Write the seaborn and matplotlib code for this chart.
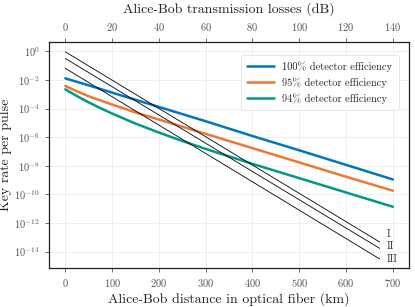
import numpy as np
import pandas as pd
import matplotlib
matplotlib.use("Agg")
import matplotlib.pyplot as plt
import seaborn as sns

# --- Daten ---
km_blue = [0, 50, 100, 200, 300, 400, 500, 600, 700]
rate_blue = [1.3e-2, 4.2e-3, 1.3e-3, 1.3e-4, 1.3e-5, 1.2e-6, 1.2e-7, 1.15e-8, 1.1e-9]

km_orange = [0, 25, 50, 100, 150, 200, 250, 300, 400, 500, 600, 700]
rate_orange = [3.8e-3, 1.6e-3, 7.2e-4, 1.9e-4, 5.4e-5, 1.7e-5, 5.4e-6, 1.7e-6, 1.7e-7, 1.7e-8, 1.7e-9, 1.8e-10]

km_green = [0, 25, 50, 75, 100, 150, 200, 250, 300, 350, 400, 500, 600, 700]
rate_green = [2.2e-3, 7.4e-4, 2.7e-4, 1.07e-4, 4.5e-5, 8.9e-6, 2.1e-6, 5.4e-7, 1.5e-7,
              4.5e-8, 1.35e-8, 1.35e-9, 1.35e-10, 1.35e-11]

km_bounds = [0, 672]
rate_I = [0.93, 4.6e-14]
rate_II = [0.32, 1.66e-14]
rate_III = [6.5e-2, 3.0e-15]
bound_labels = ["I", "II", "III"]
bound_label_y = [1.7e-13, 2.2e-14, 3.0e-15]

curve_labels = ["100% detector efficiency", "95% detector efficiency", "94% detector efficiency"]
farben = ["#0077BB", "#EE7733", "#009988"]

x_ticks = [0, 100, 200, 300, 400, 500, 600, 700]
db_ticks = [0, 20, 40, 60, 80, 100, 120, 140]
y_ticks = [1e0, 1e-2, 1e-4, 1e-6, 1e-8, 1e-10, 1e-12, 1e-14]

# --- Stil ---
sns.set_style("whitegrid")
plt.rcParams["font.family"] = ["cmr10", "DejaVu Serif"]
plt.rcParams["mathtext.fontset"] = "cm"
plt.rcParams["axes.formatter.use_mathtext"] = True
plt.rcParams["axes.unicode_minus"] = False

fig = plt.figure(figsize=(4.15, 3.07), dpi=100)
ax = fig.add_axes([0.118, 0.127, 0.868, 0.736])

for kms, rates, lab, col in zip([km_blue, km_orange, km_green],
                                [rate_blue, rate_orange, rate_green],
                                curve_labels, farben):
    sns.lineplot(x=kms, y=rates, ax=ax, color=col, linewidth=1.8, label=lab)

for rates, lab, ly in zip([rate_I, rate_II, rate_III], bound_labels, bound_label_y):
    sns.lineplot(x=km_bounds, y=rates, ax=ax, color="black", linewidth=0.6, legend=False)
    ax.text(686, ly, lab, ha="left", va="center", fontsize=7.5, color="#333333")

ax.set_yscale("log")
ax.set_xlim(-35, 735)
ax.set_ylim(7e-16, 4.5)
ax.set_xticks(x_ticks)
ax.set_yticks(y_ticks)
ax.minorticks_off()
ax.grid(True, color="#ececec", linewidth=0.6)

for s in ax.spines.values():
    s.set_color("#222222")
    s.set_linewidth(0.9)

ax.tick_params(axis="both", labelsize=7.5, colors="#555555", length=3, width=0.6,
               direction="out", bottom=True, left=True)
ax.set_xlabel("Alice-Bob distance in optical fiber (km)", fontsize=10, color="#222222", labelpad=2)
ax.set_ylabel("Key rate per pulse", fontsize=10, color="#222222")
ax.yaxis.set_label_coords(-0.103, 0.5)

top = ax.secondary_xaxis("top", functions=(lambda d: d * 0.2, lambda l: l / 0.2))
top.set_xticks(db_ticks)
top.tick_params(labelsize=7.5, colors="#555555", length=3, width=0.6, direction="out")
top.set_xlabel("Alice-Bob transmission losses (dB)", fontsize=10, color="#222222", labelpad=6)

leg = ax.legend(loc="upper right", fontsize=7.5, frameon=True, fancybox=True,
                handlelength=2.6, borderpad=0.6, labelspacing=0.5,
                bbox_to_anchor=(0.985, 0.965))
leg.get_frame().set_edgecolor("#dddddd")
leg.get_frame().set_linewidth(0.6)

fig.savefig("out.png", dpi=100)
